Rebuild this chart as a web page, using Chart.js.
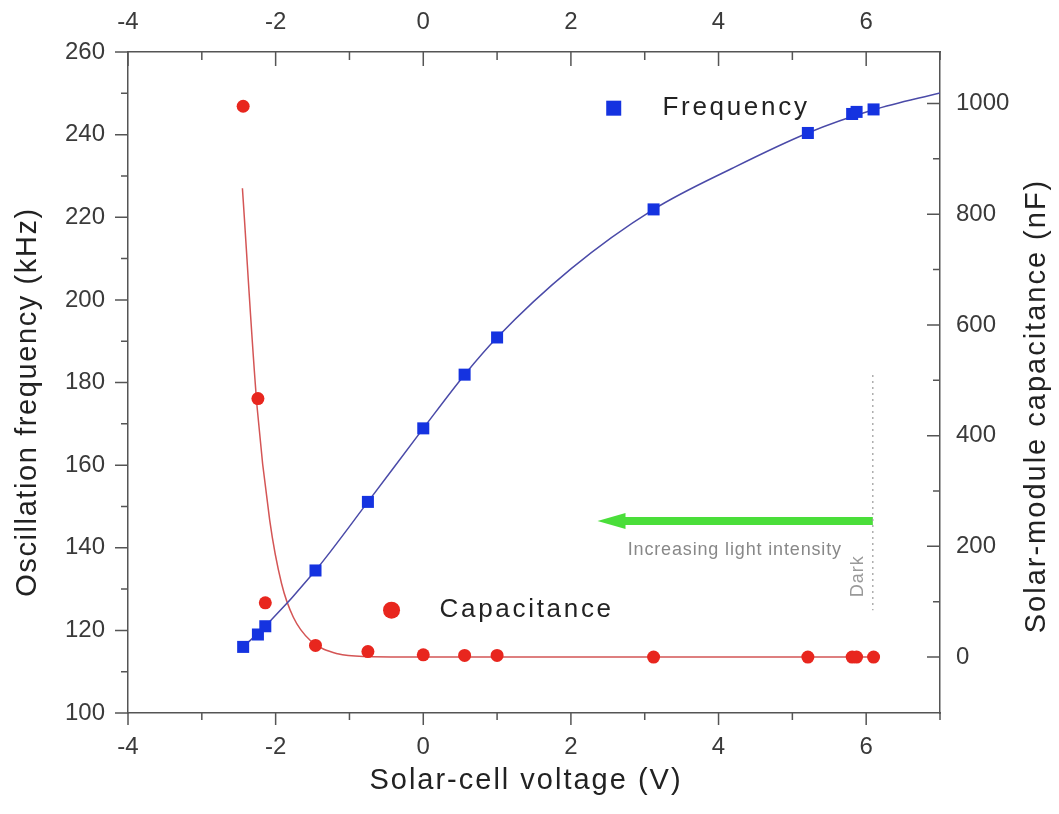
<!DOCTYPE html>
<html>
<head>
<meta charset="utf-8">
<title>Oscillation frequency and solar-module capacitance</title>
<script src="https://cdn.jsdelivr.net/npm/chart.js@4.4.0/dist/chart.umd.min.js"></script>
<style>
	html, body { margin: 0; padding: 0; background: #fff; }
	#wrap { position: relative; width: 1059px; height: 814px; }
</style>
</head>
<body>
<div id="wrap"><canvas id="chart"></canvas></div>
<script>
// measured points (shared voltage for both series)
const voltage     = [-2.44, -2.24, -2.14, -1.46, -0.75, 0.00, 0.56, 1.00, 3.12, 5.21, 5.81, 5.87, 6.10];
const frequency   = [116.0, 119.0, 121.0, 134.5, 151.1, 168.9, 181.9, 190.9, 221.9, 240.4, 245.0, 245.5, 246.1];
const capacitance = [995, 467, 98, 21, 10, 4, 3, 3, 0, 0, 0, 0, 0];

// fitted curves
const freqFitV = [-2.44, -2.14, -1.46, -0.75, 0.00, 0.56, 1.00, 2.00, 3.12, 4.18, 5.21, 6.10, 7.00];
const freqFitF = [116.0, 121.0, 134.5, 151.1, 168.9, 181.9, 190.9, 207.5, 221.9, 231.8, 240.4, 246.0, 250.1];
const capFitV  = [-2.45, -2.25, -2.08, -1.92, -1.76, -1.53, -1.16, -0.75, 0.00, 3.00, 6.10];
const capFitC  = [847, 450, 247, 133, 72, 30, 6, 1, 0, 0, 0];

// axes
const xTicks    = [-4, -2, 0, 2, 4, 6];
const xMinor    = [-3, -1, 1, 3, 5, 7];
const freqTicks = [100, 120, 140, 160, 180, 200, 220, 240, 260];
const freqMinor = [110, 130, 150, 170, 190, 210, 230, 250];
const capTicks  = [0, 200, 400, 600, 800, 1000];
const capMinor  = [100, 300, 500, 700, 900];

const FONT = "'Liberation Sans', Arial, sans-serif";
const AXIS = '#555';

function pts(xs, ys) {
	return xs.map((v, i) => ({x: v, y: ys[i]}));
}

function text(ctx, str, x, y, size, color, opts = {}) {
	ctx.save();
	ctx.translate(x, y);
	if (opts.rotate) ctx.rotate(opts.rotate);
	ctx.font = size + 'px ' + FONT;
	ctx.fillStyle = color;
	ctx.textAlign = opts.align || 'center';
	ctx.textBaseline = 'middle';
	ctx.letterSpacing = (opts.spacing || 0) + 'px';
	ctx.fillText(str, 0, 0);
	ctx.restore();
}

function tickMarks(ctx, scale, values, len, side) {
	const a = scale.chart.chartArea;
	values.forEach(v => {
		const p = scale.getPixelForValue(v);
		if (side === 'bottom') { ctx.moveTo(p, a.bottom); ctx.lineTo(p, a.bottom + len); }
		if (side === 'top')    { ctx.moveTo(p, a.top);    ctx.lineTo(p, a.top + len); }
		if (side === 'left')   { ctx.moveTo(a.left, p);   ctx.lineTo(a.left - len, p); }
		if (side === 'right')  { ctx.moveTo(a.right, p);  ctx.lineTo(a.right - len, p); }
	});
}

const framePlugin = {
	id: 'frame',
	afterDraw(chart) {
		const {ctx, scales} = chart;
		const {x, x2, y, y1} = scales;

		// tick marks: left/bottom outward, top/right inward
		ctx.save();
		ctx.strokeStyle = AXIS;
		ctx.lineWidth = 1.5;
		ctx.beginPath();
		tickMarks(ctx, x, xTicks, 12, 'bottom');
		tickMarks(ctx, x, xMinor, 7, 'bottom');
		tickMarks(ctx, x2, xTicks, 14, 'top');
		tickMarks(ctx, x2, xMinor, 8, 'top');
		tickMarks(ctx, y, freqTicks, 13, 'left');
		tickMarks(ctx, y, freqMinor, 7, 'left');
		tickMarks(ctx, y1, capTicks, 13, 'right');
		tickMarks(ctx, y1, capMinor, 7, 'right');
		ctx.stroke();
		ctx.restore();

		// axis titles
		text(ctx, 'Oscillation frequency (kHz)', 28, 402, 29, '#222', {rotate: -Math.PI / 2, spacing: 1.6});
		text(ctx, 'Solar-cell voltage (V)', 526, 781, 29, '#222', {spacing: 2});
		text(ctx, 'Solar-module capacitance (nF)', 1037, 406, 29, '#222', {rotate: -Math.PI / 2, spacing: 2});

		// legend entries
		const fx = x.getPixelForValue(2.58), fy = y.getPixelForValue(246.4);
		ctx.fillStyle = '#1533e0';
		ctx.fillRect(fx - 7.5, fy - 7.5, 15, 15);
		text(ctx, 'Frequency', x.getPixelForValue(3.24), fy, 26, '#222', {align: 'left', spacing: 2.7});

		const cx = x.getPixelForValue(-0.43), cy = y.getPixelForValue(124.9);
		ctx.fillStyle = '#e8261e';
		ctx.beginPath();
		ctx.arc(cx, cy, 8.5, 0, Math.PI * 2);
		ctx.fill();
		text(ctx, 'Capacitance', x.getPixelForValue(0.22), cy, 26, '#222', {align: 'left', spacing: 2.7});

		// light-intensity arrow
		const ay = y.getPixelForValue(146.5);
		const tail = x.getPixelForValue(6.09), head = x.getPixelForValue(2.36);
		ctx.save();
		ctx.strokeStyle = '#4ade3a';
		ctx.fillStyle = '#4ade3a';
		ctx.lineWidth = 8;
		ctx.beginPath();
		ctx.moveTo(tail, ay);
		ctx.lineTo(head + 24, ay);
		ctx.stroke();
		ctx.beginPath();
		ctx.moveTo(head, ay);
		ctx.lineTo(head + 28, ay - 8);
		ctx.lineTo(head + 28, ay + 8);
		ctx.closePath();
		ctx.fill();

		// "Dark" marker line
		ctx.strokeStyle = '#999';
		ctx.lineWidth = 1.2;
		ctx.setLineDash([2, 4]);
		ctx.beginPath();
		ctx.moveTo(tail, y.getPixelForValue(181.8));
		ctx.lineTo(tail, y.getPixelForValue(124.9));
		ctx.stroke();
		ctx.restore();

		text(ctx, 'Increasing light intensity', x.getPixelForValue(4.22), y.getPixelForValue(139.4), 18, '#888', {spacing: 0.85});
		text(ctx, 'Dark', x.getPixelForValue(5.89), y.getPixelForValue(133.1), 18, '#999', {rotate: -Math.PI / 2, spacing: 1});
	}
};

function linearAxis(position, min, max, values, padding, size) {
	return {
		type: 'linear',
		position: position,
		min: min,
		max: max,
		grid: { display: false, drawTicks: false },
		border: { display: true, color: AXIS, width: 1.5 },
		ticks: {
			font: { family: FONT, size: 24 },
			color: '#3a3a3a',
			padding: padding,
			autoSkip: false,
			maxRotation: 0,
			callback: v => String(v)
		},
		afterBuildTicks: axis => { axis.ticks = values.map(v => ({value: v})); },
		afterFit: axis => {
			if (position === 'left' || position === 'right') axis.width = size;
			else axis.height = size;
		}
	};
}

new Chart(document.getElementById('chart'), {
	type: 'scatter',
	data: {
		datasets: [
			{
				label: 'Frequency',
				data: pts(voltage, frequency),
				xAxisID: 'x', yAxisID: 'y',
				pointStyle: 'rect',
				pointRadius: 8.5,
				backgroundColor: '#1533e0',
				borderColor: '#1533e0',
				borderWidth: 0,
				order: 0
			},
			{
				label: 'Capacitance',
				data: pts(voltage, capacitance),
				xAxisID: 'x', yAxisID: 'y1',
				pointStyle: 'circle',
				pointRadius: 6.5,
				backgroundColor: '#e8261e',
				borderColor: '#e8261e',
				borderWidth: 0,
				order: 0
			},
			{
				label: 'Frequency fit',
				data: pts(freqFitV, freqFitF),
				xAxisID: 'x', yAxisID: 'y',
				showLine: true,
				cubicInterpolationMode: 'monotone',
				pointRadius: 0,
				borderColor: '#4a4aa8',
				borderWidth: 1.5,
				order: 1
			},
			{
				label: 'Capacitance fit',
				data: pts(capFitV, capFitC),
				xAxisID: 'x', yAxisID: 'y1',
				showLine: true,
				cubicInterpolationMode: 'monotone',
				pointRadius: 0,
				borderColor: '#d45555',
				borderWidth: 1.5,
				order: 1
			}
		]
	},
	options: {
		responsive: true,
		maintainAspectRatio: false,
		animation: false,
		layout: { padding: 0 },
		plugins: {
			legend: { display: false },
			tooltip: { enabled: false }
		},
		scales: {
			x:  linearAxis('bottom', -4, 7, xTicks, 20, 101),
			x2: linearAxis('top', -4, 7, xTicks, 15, 52),
			y:  linearAxis('left', 100, 260, freqTicks, 23, 128),
			y1: linearAxis('right', -101, 1093, capTicks, 16, 119)
		}
	},
	plugins: [framePlugin]
});
</script>
</body>
</html>
